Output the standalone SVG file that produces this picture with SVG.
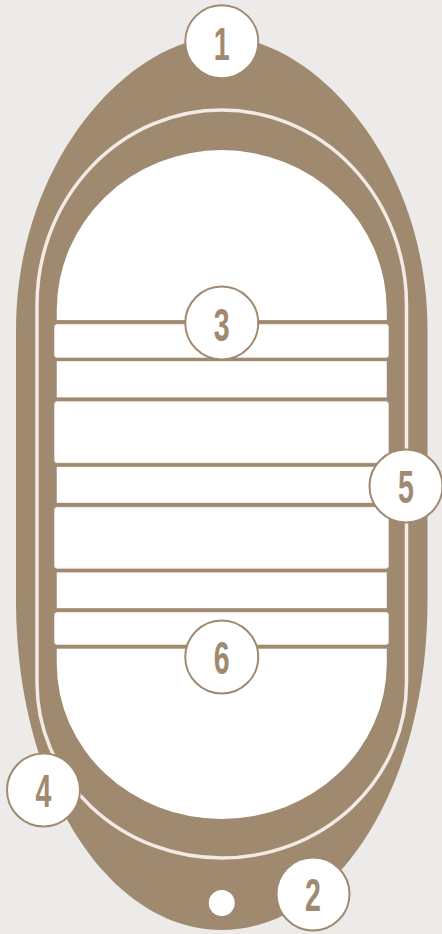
<svg xmlns="http://www.w3.org/2000/svg" width="442" height="934" viewBox="0 0 442 934">
<style>
.brown{fill:#9F8A6F}
.bar{fill:#FFFFFF;stroke:#E9E1D8;stroke-width:0.8}
.line{fill:#9F8A6F}
.badge{fill:#FFFFFF;stroke:#9F8A6F;stroke-width:2}
.num{font-family:"Liberation Sans",Arial,sans-serif;font-weight:bold;font-size:46px;fill:#9F8A6F;text-anchor:middle}
</style>
<rect width="442" height="934" fill="#ECEBE9"/>
<g id="body">
<path class="brown" d="M221.75,37 C131,37 16,160 16,330 L16,600 C16,790 110,930 221.75,930 C333.5,930 427.5,790 427.5,600 L427.5,330 C427.5,160 312.5,37 221.75,37 Z"/>
<path d="M37,305 A184.75,195 0 0 1 406.5,305 L406.5,683 A184.75,175 0 0 1 37,683 Z" fill="none" stroke="#F2EAE4" stroke-width="3.5"/>
<path d="M56.75,310 A165,160 0 0 1 386.75,310 L386.75,664 A165,155 0 0 1 56.75,664 Z" fill="#FFFFFF"/>
<circle cx="221.75" cy="903" r="13" fill="#FFFFFF"/>
</g>
<g id="lines">
<rect class="line" x="56" y="320.1" width="331.5" height="4.2"/>
<rect class="line" x="56" y="357.2" width="331.5" height="4"/>
<rect class="line" x="56" y="397.4" width="331.5" height="4.2"/>
<rect class="line" x="56" y="462.6" width="331.5" height="4.2"/>
<rect class="line" x="56" y="502.8" width="331.5" height="4.4"/>
<rect class="line" x="56" y="568.2" width="331.5" height="4.2"/>
<rect class="line" x="56" y="608.2" width="331.5" height="4.2"/>
<rect class="line" x="56" y="644.3" width="331.5" height="4.4"/>
</g>
<g id="bars">
<rect class="bar" x="54.5" y="324.4" width="334" height="33" rx="2.5"/>
<rect class="bar" x="54.5" y="401.7" width="334" height="61" rx="2.5"/>
<rect class="bar" x="54.5" y="507.3" width="334" height="61" rx="2.5"/>
<rect class="bar" x="54.5" y="612.4" width="334" height="32" rx="2.5"/>
</g>
<g id="n1">
<circle class="badge" cx="221.75" cy="41.7" r="36.5"/>
<text class="num" transform="translate(221.75,60) scale(0.62,1)" x="0" y="0">1</text>
</g>
<g id="n2">
<circle class="badge" cx="313" cy="894" r="36.5"/>
<text class="num" transform="translate(313,910.5) scale(0.62,1)" x="0" y="0">2</text>
</g>
<g id="n3">
<circle class="badge" cx="221.75" cy="323" r="36.5"/>
<text class="num" transform="translate(221.75,340.5) scale(0.62,1)" x="0" y="0">3</text>
</g>
<g id="n4">
<circle class="badge" cx="43.5" cy="790" r="36.5"/>
<text class="num" transform="translate(43.5,806.5) scale(0.62,1)" x="0" y="0">4</text>
</g>
<g id="n5">
<circle class="badge" cx="406" cy="486" r="36.5"/>
<text class="num" transform="translate(406,502.5) scale(0.62,1)" x="0" y="0">5</text>
</g>
<g id="n6">
<circle class="badge" cx="221.75" cy="657" r="36.5"/>
<text class="num" transform="translate(221.75,673.5) scale(0.62,1)" x="0" y="0">6</text>
</g>
</svg>
